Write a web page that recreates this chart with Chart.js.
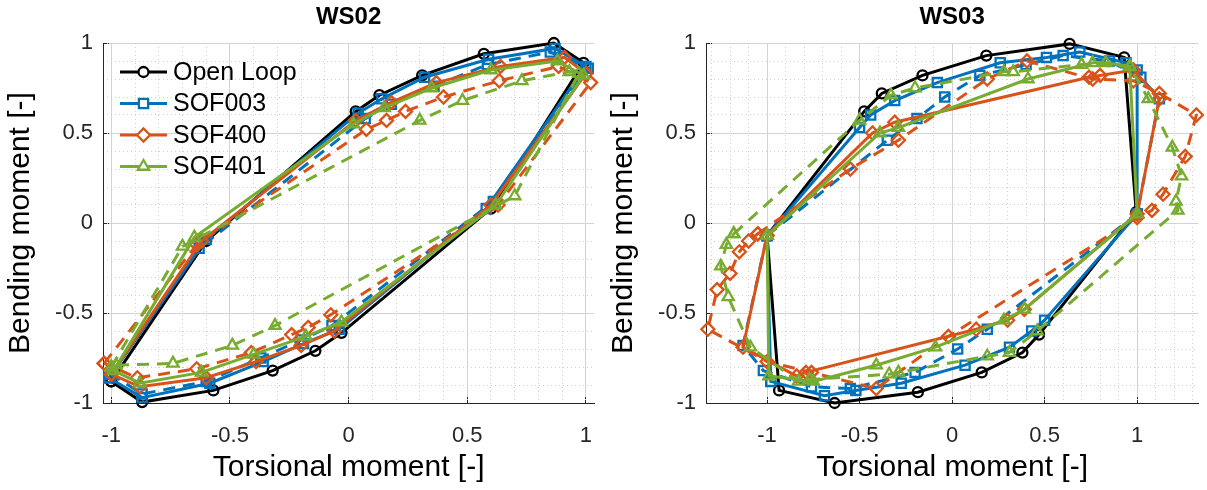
<!DOCTYPE html>
<html>
<head>
<meta charset="utf-8">
<script src="https://cdn.jsdelivr.net/npm/chart.js@4.4.1/dist/chart.umd.min.js"></script>
<style>
  html, body { margin: 0; padding: 0; background: #fff; }
  #wrap { position: relative; width: 1207px; height: 490px; }
  canvas { position: absolute; top: 0; }
</style>
</head>
<body>
<div id="wrap">
  <canvas id="ws02" width="603" height="490" style="left:0"></canvas>
  <canvas id="ws03" width="604" height="490" style="left:603px"></canvas>
</div>
<script>
// ---- tick values ----
const majorTicks = [-1, -0.5, 0, 0.5, 1];
const minorTicks = [-1.3, -1.2, -1.1, -1, -0.9, -0.8, -0.7, -0.6, -0.5, -0.4, -0.3, -0.2, -0.1, 0,
                    0.1, 0.2, 0.3, 0.4, 0.5, 0.6, 0.7, 0.8, 0.9, 1, 1.1, 1.2, 1.3];

// ---- WS02 ----
const ws02OpenX = [-1.0, -0.6, 0.03, 0.13, 0.31, 0.57, 0.865, 0.99, 0.6, -0.03, -0.14, -0.32, -0.57, -0.87, -1.0];
const ws02OpenY = [-0.88, -0.1, 0.62, 0.71, 0.82, 0.94, 1.0, 0.89, 0.08, -0.61, -0.71, -0.82, -0.93, -0.995, -0.88];

const ws02Sof003X = [-1.01, -0.6, 0.04, 0.14, 0.32, 0.59, 0.87, 1.0, 0.58, -0.04, -0.19, -0.36, -0.585, -0.87, -1.01];
const ws02Sof003Y = [-0.86, -0.09, 0.61, 0.69, 0.81, 0.91, 0.97, 0.87, 0.08, -0.59, -0.67, -0.77, -0.89, -0.97, -0.86];
const ws02Sof003dX = [-1.0, -0.63, 0.07, 0.18, 0.36, 0.585, 0.85, 1.01, 0.61, -0.07, -0.2, -0.37, -0.6, -0.87, -1.0];
const ws02Sof003dY = [-0.84, -0.14, 0.58, 0.66, 0.76, 0.88, 0.95, 0.86, 0.12, -0.57, -0.65, -0.75, -0.88, -0.95, -0.84];

const ws02Sof400X = [-1.0, -0.62, 0.03, 0.18, 0.37, 0.64, 0.91, 1.0, 0.6, -0.06, -0.2, -0.39, -0.6, -0.88, -1.0];
const ws02Sof400Y = [-0.84, -0.1, 0.57, 0.67, 0.78, 0.87, 0.92, 0.83, 0.1, -0.6, -0.68, -0.77, -0.86, -0.91, -0.84];
const ws02Sof400dX = [-1.03, -0.64, 0.075, 0.16, 0.24, 0.40, 0.635, 0.885, 1.02, 0.63, -0.075, -0.17, -0.24, -0.41, -0.64, -0.89, -1.03];
const ws02Sof400dY = [-0.78, -0.12, 0.52, 0.57, 0.62, 0.70, 0.79, 0.87, 0.78, 0.1, -0.51, -0.58, -0.62, -0.72, -0.81, -0.86, -0.78];

const ws02Sof401X = [-0.99, -0.65, 0.02, 0.15, 0.35, 0.6, 0.88, 0.99, 0.62, -0.03, -0.18, -0.4, -0.62, -0.88, -0.99];
const ws02Sof401Y = [-0.82, -0.08, 0.55, 0.64, 0.75, 0.85, 0.9, 0.82, 0.1, -0.55, -0.63, -0.73, -0.83, -0.89, -0.82];
const ws02Sof401dX = [-1.0, -0.7, 0.3, 0.48, 0.73, 0.93, 0.97, 0.7, -0.31, -0.49, -0.74, -0.98, -1.0];
const ws02Sof401dY = [-0.8, -0.13, 0.57, 0.68, 0.79, 0.84, 0.83, 0.15, -0.57, -0.68, -0.78, -0.79, -0.8];

// ---- WS03 ----
const ws03OpenX = [-1.0, -0.475, -0.38, -0.16, 0.185, 0.635, 0.93, 0.995, 0.47, 0.38, 0.16, -0.185, -0.635, -0.935, -1.0];
const ws03OpenY = [-0.07, 0.62, 0.72, 0.82, 0.93, 0.995, 0.92, 0.06, -0.62, -0.72, -0.83, -0.94, -1.0, -0.93, -0.07];

const ws03Sof003X = [-1.0, -0.5, -0.44, -0.31, -0.08, 0.26, 0.51, 0.69, 0.94, 1.0, 1.0, 0.5, 0.43, 0.31, 0.07, -0.275, -0.52, -0.69, -0.98, -1.0];
const ws03Sof003Y = [-0.07, 0.53, 0.6, 0.68, 0.78, 0.89, 0.92, 0.95, 0.89, 0.85, 0.05, -0.54, -0.6, -0.69, -0.79, -0.89, -0.93, -0.96, -0.88, -0.07];
const ws03Sof003dX = [-1.0, -0.35, -0.19, -0.04, 0.15, 0.4, 0.6, 0.85, 1.02, 1.12, 1.0, 0.19, 0.03, -0.2, -0.55, -0.76, -1.02, -1.13, -1.0];
const ws03Sof003dY = [-0.07, 0.46, 0.58, 0.70, 0.82, 0.88, 0.93, 0.9, 0.81, 0.69, 0.05, -0.59, -0.70, -0.83, -0.92, -0.91, -0.82, -0.68, -0.07];

const ws03Sof400X = [-1.0, -0.43, -0.31, 0.74, 0.8, 0.98, 1.12, 1.0, 0.39, 0.3, 0.13, -0.79, -0.84, -1.13, -1.0];
const ws03Sof400Y = [-0.07, 0.5, 0.56, 0.81, 0.82, 0.85, 0.69, 0.05, -0.48, -0.54, -0.59, -0.83, -0.85, -0.69, -0.07];
const ws03Sof400dX = [-1.05, -0.55, -0.29, 0.19, 0.405, 0.76, 0.98, 1.12, 1.32, 1.26, 1.14, 1.08, 1.0, -0.02, -0.41, -0.76, -1.0, -1.32, -1.27, -1.2, -1.15, -1.1, -1.05];
const ws03Sof400dY = [-0.06, 0.3, 0.46, 0.8, 0.9, 0.8, 0.79, 0.72, 0.6, 0.37, 0.16, 0.07, 0.03, -0.63, -0.92, -0.83, -0.77, -0.59, -0.37, -0.28, -0.16, -0.1, -0.06];

const ws03Sof401X = [-1.0, -0.39, -0.29, 0.41, 0.76, 0.83, 0.96, 1.0, 0.39, 0.28, -0.09, -0.41, -0.75, -0.99, -1.0];
const ws03Sof401Y = [-0.07, 0.5, 0.53, 0.8, 0.89, 0.89, 0.87, 0.05, -0.48, -0.54, -0.69, -0.79, -0.88, -0.85, -0.07];
const ws03Sof401dX = [-1.18, -0.5, -0.33, -0.2, 0.28, 0.33, 0.7, 0.96, 1.06, 1.19, 1.24, 1.21, 1.22, 0.46, 0.31, 0.19, -0.29, -0.34, -0.77, -0.83, -1.09, -1.21, -1.25, -1.22, -1.18];
const ws03Sof401dY = [-0.06, 0.57, 0.71, 0.75, 0.84, 0.84, 0.88, 0.87, 0.69, 0.42, 0.26, 0.12, 0.07, -0.6, -0.72, -0.74, -0.83, -0.84, -0.87, -0.88, -0.69, -0.41, -0.24, -0.12, -0.06];

const FONT = "'Liberation Sans', Arial, Helvetica, sans-serif";
const BLACK = '#000000', BLUE = '#0072BD', ORANGE = '#D95319', GREEN = '#77AC30';

function series(label, xs, ys, color, style, radius, dashed, order) {
    return {
        label: label,
        data: xs.map((x, i) => ({ x: x, y: ys[i] })),
        showLine: true,
        borderColor: color,
        backgroundColor: color,
        borderWidth: 3,
        borderDash: dashed ? [12, 8] : [],
        pointStyle: style,
        pointRadius: radius,
        pointBorderWidth: 2.3,
        pointBorderColor: color,
        pointBackgroundColor: 'rgba(0,0,0,0)',
        pointHoverRadius: radius,
        tension: 0,
        fill: false,
        clip: 10,
        order: order,
        legendHidden: dashed
    };
}

function setTicks(values) {
    return (scale) => {
        scale.ticks = values
            .filter((v) => v >= scale.min - 1e-9 && v <= scale.max + 1e-9)
            .map((v) => ({ value: v }));
    };
}

// legend drawn inside the plot area, MATLAB style (line + marker)
const insideLegend = {
    id: 'insideLegend',
    afterDraw(chart, args, opts) {
        if (!opts.display) return;
        const ctx = chart.ctx;
        const area = chart.chartArea;
        const x0 = area.left + opts.left;
        let y = area.top + opts.top;
        ctx.save();
        ctx.font = opts.font;
        ctx.textBaseline = 'middle';
        chart.data.datasets.forEach((ds) => {
            if (ds.legendHidden) return;
            ctx.setLineDash([]);
            ctx.strokeStyle = ds.borderColor;
            ctx.lineWidth = ds.borderWidth;
            ctx.beginPath();
            ctx.moveTo(x0, y);
            ctx.lineTo(x0 + opts.lineLen, y);
            ctx.stroke();
            ctx.fillStyle = '#ffffff';
            ctx.lineWidth = ds.pointBorderWidth;
            Chart.helpers.drawPoint(ctx, {
                pointStyle: ds.pointStyle, radius: ds.pointRadius,
                borderWidth: ds.pointBorderWidth, rotation: 0
            }, x0 + opts.lineLen / 2, y);
            ctx.fillStyle = '#000000';
            ctx.fillText(ds.label, x0 + opts.lineLen + opts.gap, y + 1);
            y += opts.spacing;
        });
        ctx.restore();
    }
};

function makeChart(id, title, xMax, datasets, showLegend) {
    const tickFont = { family: FONT, size: 22 };
    const labelFont = { family: FONT, size: 30 };
    const majorGrid = { color: '#d4d4d4', lineWidth: 1, drawTicks: true, tickLength: -6, tickColor: '#262626', tickWidth: 1 };
    const minorGrid = { color: '#d0d0d0', lineWidth: 1, drawTicks: false, borderDash: [1, 3] };
    return new Chart(document.getElementById(id), {
        type: 'scatter',
        data: { datasets: datasets },
        plugins: [insideLegend],
        options: {
            responsive: false,
            animation: false,
            events: [],
            layout: { padding: { left: 0, right: 5, top: 0, bottom: 0 } },
            plugins: {
                legend: { display: false },
                tooltip: { enabled: false },
                title: {
                    display: true, text: title, color: '#000', fullSize: false,
                    font: { family: FONT, size: 24, weight: 'bold' },
                    padding: { top: 3, bottom: 11.2 }
                },
                insideLegend: {
                    display: showLegend, font: '25px ' + FONT,
                    left: 17, top: 29, lineLen: 47, gap: 6, spacing: 31.5
                }
            },
            scales: {
                x: {
                    type: 'linear', position: 'bottom', min: -xMax, max: xMax,
                    afterBuildTicks: setTicks(majorTicks),
                    afterFit: (s) => { s.height = 87; s.paddingLeft = 0; s.paddingRight = 0; },
                    grid: majorGrid,
                    border: { color: '#262626', width: 1 },
                    ticks: { callback: (v) => String(v), font: tickFont, color: '#262626', padding: 26, maxRotation: 0, autoSkip: false },
                    title: { display: true, text: 'Torsional moment [-]', font: labelFont, color: '#000', padding: { top: 0, bottom: 4 } }
                },
                xm: {
                    type: 'linear', position: 'bottom', min: -xMax, max: xMax,
                    afterBuildTicks: setTicks(minorTicks),
                    afterFit: (s) => { s.height = 0; s.paddingLeft = 0; s.paddingRight = 0; },
                    grid: minorGrid,
                    border: { display: false, dash: [1, 3] },
                    ticks: { display: false }
                },
                y: {
                    type: 'linear', position: 'left', min: -1, max: 1,
                    afterBuildTicks: setTicks(majorTicks),
                    afterFit: (s) => { s.width = 103; s.paddingTop = 0; s.paddingBottom = 0; },
                    grid: majorGrid,
                    border: { color: '#262626', width: 1 },
                    ticks: { callback: (v) => String(v), font: tickFont, color: '#262626', padding: 16, autoSkip: false },
                    title: { display: true, text: 'Bending moment [-]', font: labelFont, color: '#000', padding: { top: 3, bottom: 0 } }
                },
                ym: {
                    type: 'linear', position: 'left', min: -1, max: 1,
                    afterBuildTicks: setTicks(minorTicks),
                    afterFit: (s) => { s.width = 0; s.paddingTop = 0; s.paddingBottom = 0; },
                    grid: minorGrid,
                    border: { display: false, dash: [1, 3] },
                    ticks: { display: false }
                }
            }
        }
    });
}

makeChart('ws02', 'WS02', 1.035, [
    series('Open Loop', ws02OpenX, ws02OpenY, BLACK, 'circle', 5, false, 8),
    series('SOF003', ws02Sof003X, ws02Sof003Y, BLUE, 'rect', 6.5, false, 7),
    series('SOF003', ws02Sof003dX, ws02Sof003dY, BLUE, 'rect', 6.5, true, 6),
    series('SOF400', ws02Sof400X, ws02Sof400Y, ORANGE, 'rectRot', 6.5, false, 5),
    series('SOF400', ws02Sof400dX, ws02Sof400dY, ORANGE, 'rectRot', 6.5, true, 4),
    series('SOF401', ws02Sof401X, ws02Sof401Y, GREEN, 'triangle', 6.5, false, 3),
    series('SOF401', ws02Sof401dX, ws02Sof401dY, GREEN, 'triangle', 6.5, true, 2)
], true);

makeChart('ws03', 'WS03', 1.33, [
    series('Open Loop', ws03OpenX, ws03OpenY, BLACK, 'circle', 5, false, 8),
    series('SOF003', ws03Sof003X, ws03Sof003Y, BLUE, 'rect', 6.5, false, 7),
    series('SOF003', ws03Sof003dX, ws03Sof003dY, BLUE, 'rect', 6.5, true, 6),
    series('SOF400', ws03Sof400X, ws03Sof400Y, ORANGE, 'rectRot', 6.5, false, 5),
    series('SOF400', ws03Sof400dX, ws03Sof400dY, ORANGE, 'rectRot', 6.5, true, 4),
    series('SOF401', ws03Sof401X, ws03Sof401Y, GREEN, 'triangle', 6.5, false, 3),
    series('SOF401', ws03Sof401dX, ws03Sof401dY, GREEN, 'triangle', 6.5, true, 2)
], false);
</script>
</body>
</html>
